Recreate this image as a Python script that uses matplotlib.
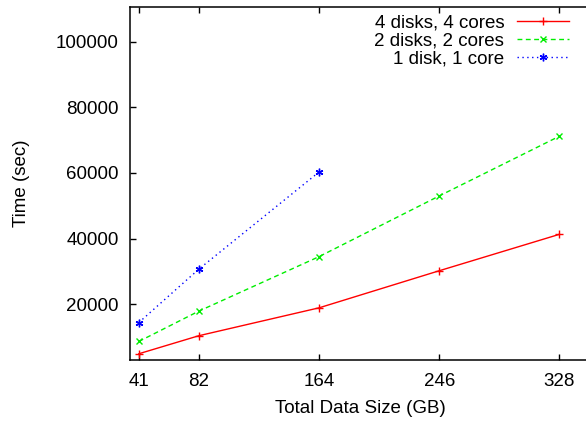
import matplotlib
matplotlib.use("Agg")
import matplotlib.pyplot as plt

plt.rcParams['font.family'] = ['Liberation Sans', 'DejaVu Sans']

sizes_4 = [41, 82, 164, 246, 328]
time_4 = [4900, 10400, 18900, 30200, 41300]
sizes_2 = [41, 82, 164, 246, 328]
time_2 = [8650, 17900, 34500, 53000, 71200]
sizes_1 = [41, 82, 164]
time_1 = [14400, 30700, 60300]
xticks = [41, 82, 164, 246, 328]
yticks = [20000, 40000, 60000, 80000, 100000]

W, H = 586, 421
fig = plt.figure(figsize=(W / 100, H / 100), dpi=100)
left, right, top, bottom = 130, 591.6, 7.3, 360
ax = fig.add_axes([left / W, (H - bottom) / H, (right - left) / W, (bottom - top) / H])

fs = 13.5
ax.plot(sizes_4, time_4, color='#ff0000', lw=1.0, marker='+', ms=6, mew=1.0,
        label='4 disks, 4 cores')
ax.plot(sizes_2, time_2, color='#00ee00', lw=1.0, ls=(0, (3.5, 2.5)), marker='x', ms=5, mew=1.0,
        label='2 disks, 2 cores')
ax.plot(sizes_1, time_1, color='#0000ff', lw=1.0, ls=(0, (1, 2.5)), marker=(6, 2, 0), ms=5.5, mew=1.0,
        label='1 disk, 1 core')

ax.set_xlim(35, 350)
ax.set_ylim(3000, 110500)
ax.set_xticks(xticks)
ax.set_xticklabels([str(v) for v in xticks])
ax.set_yticks(yticks)
ax.set_yticklabels([str(v) for v in yticks])
ax.tick_params(direction='in', length=4.5, width=1, labelsize=fs, top=True, right=True,
               color='black')
ax.tick_params(axis='x', pad=9)
ax.tick_params(axis='y', pad=8)
for s in ax.spines.values():
    s.set_linewidth(1.1)
    s.set_color('black')

ax.set_xlabel('Total Data Size (GB)', fontsize=fs, labelpad=7.5)
ax.set_ylabel('Time (sec)', fontsize=fs, labelpad=19)

leg = ax.legend(loc='upper right', bbox_to_anchor=(569 / W, 1 - 14 / H),
                bbox_transform=fig.transFigure, frameon=False, markerfirst=False,
                fontsize=fs, handlelength=2.75, handletextpad=0.7, labelspacing=0.06,
                borderpad=0, borderaxespad=0)
for t in leg.get_texts():
    t.set_ha('right')
leg._legend_box.align = 'right'

fig.savefig('out.png', dpi=100)
